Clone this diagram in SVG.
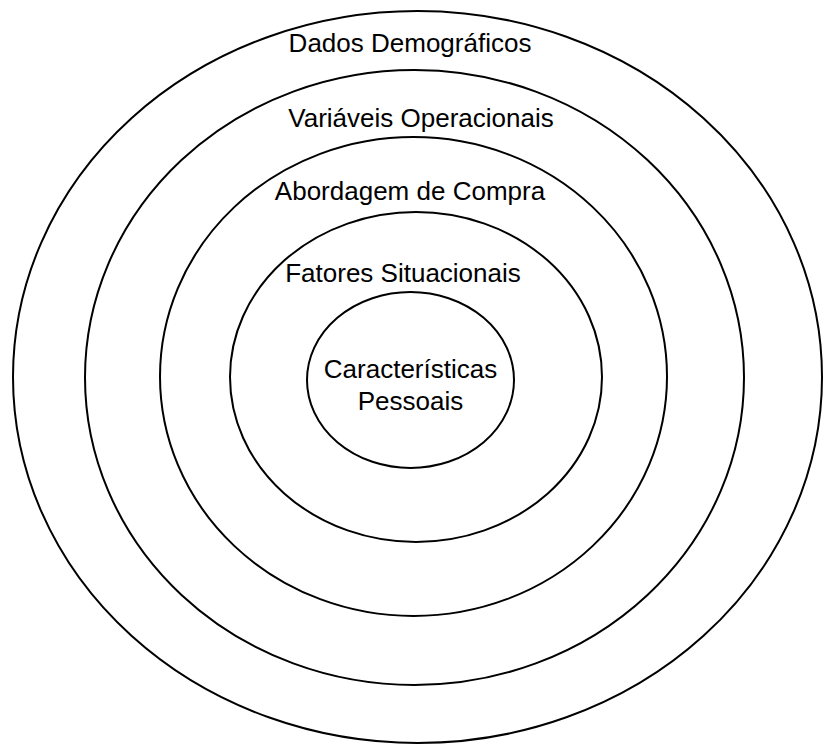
<svg xmlns="http://www.w3.org/2000/svg" width="824" height="744" viewBox="0 0 824 744">
  <style>
    .ring { fill: none; stroke: #000; stroke-width: 2; }
    .label { font-family: "Liberation Sans", Arial, sans-serif; font-size: 26px; fill: #000; text-anchor: middle; }
  </style>
  <rect width="824" height="744" fill="#fff"/>
  <g id="dados-demograficos">
    <ellipse class="ring" cx="417.5" cy="377" rx="404.5" ry="366"/>
    <text class="label" x="410" y="52">Dados Demográficos</text>
  </g>
  <g id="variaveis-operacionais">
    <ellipse class="ring" cx="414.5" cy="377.5" rx="329.5" ry="307.5"/>
    <text class="label" x="421" y="127">Variáveis Operacionais</text>
  </g>
  <g id="abordagem-de-compra">
    <ellipse class="ring" cx="413.5" cy="376.5" rx="253.5" ry="239.5"/>
    <text class="label" x="410" y="200">Abordagem de Compra</text>
  </g>
  <g id="fatores-situacionais">
    <ellipse class="ring" cx="416" cy="377" rx="186" ry="165"/>
    <text class="label" x="403" y="282">Fatores Situacionais</text>
  </g>
  <g id="caracteristicas-pessoais">
    <ellipse class="ring" cx="410.5" cy="380" rx="103.5" ry="88"/>
    <text class="label" x="410.5" y="378">Características</text>
    <text class="label" x="410.5" y="410">Pessoais</text>
  </g>
</svg>
